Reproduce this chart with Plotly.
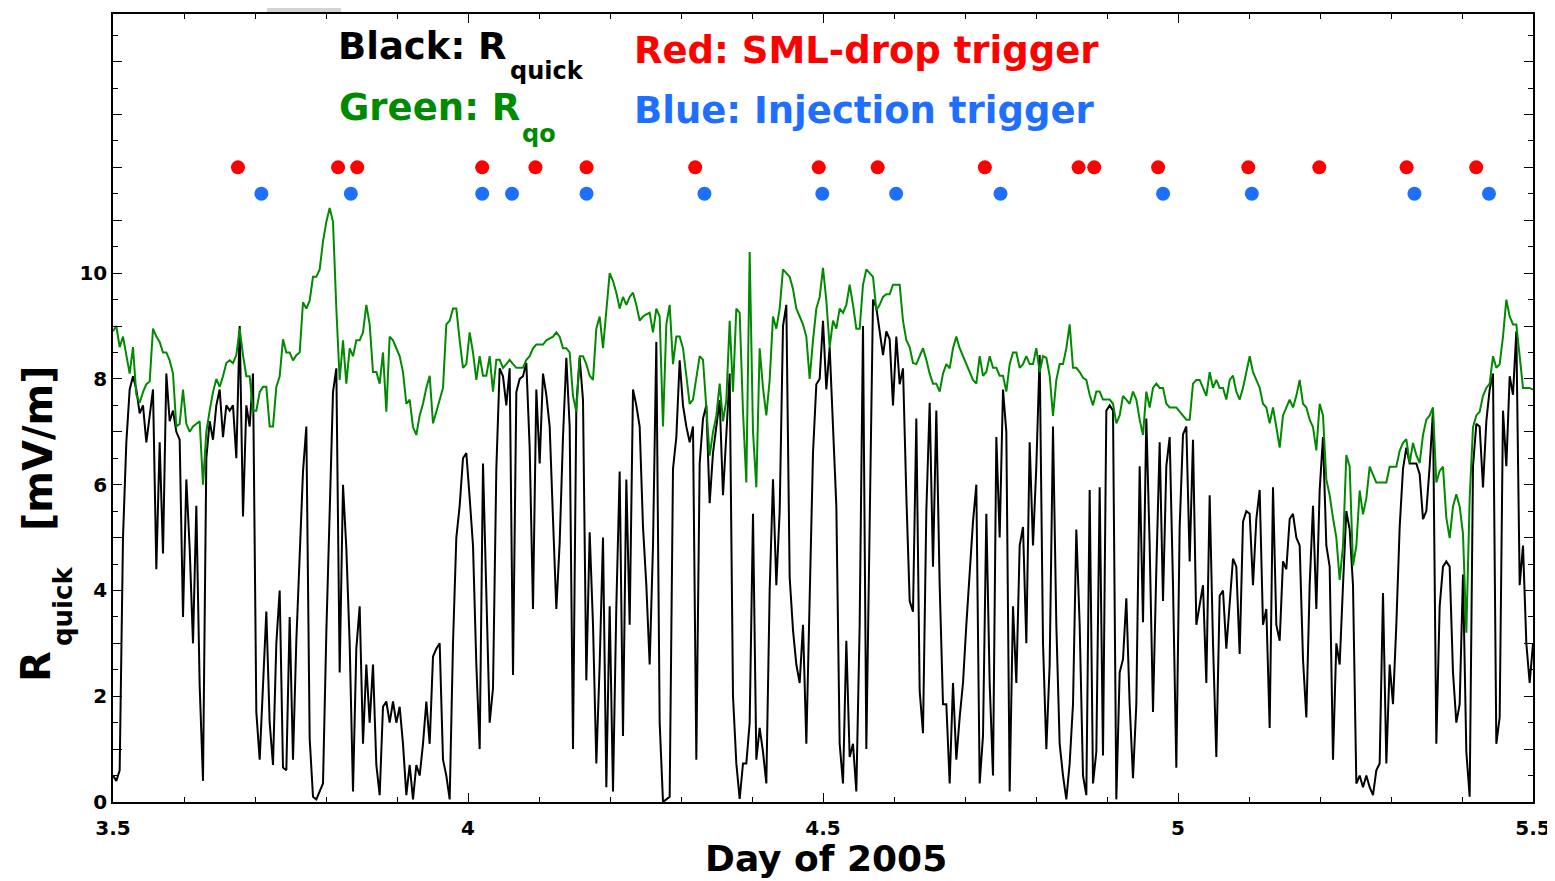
import numpy as np
import plotly.graph_objects as go

# R_quick (black) sampled on a regular time grid from day 3.5 to 5.5
r_quick = [
    0.5, 0.4, 0.6, 5.0, 6.8, 7.8, 8.05, 7.8, 7.35, 7.5, 6.8, 7.3, 7.8, 4.4, 6.8, 4.7,
    8.1, 7.2, 7.4, 7.0, 6.85, 3.5, 6.1, 4.8, 3.0, 5.6, 2.2, 0.4, 6.5, 7.2, 6.85, 7.5,
    7.8, 6.9, 7.5, 7.4, 7.5, 6.5, 9.0, 5.4, 7.5, 7.1, 8.1, 1.7, 0.8, 2.2, 3.6, 1.5,
    0.7, 3.0, 4.0, 0.65, 0.6, 3.5, 0.8, 3.05,
    4.5, 6.25, 7.1, 1.2, 0.1, 0.05, 0.2, 0.35, 3.2, 5.6, 7.75, 8.2, 2.45, 6.0, 4.8, 3.0,
    0.2, 2.9, 3.7, 1.1, 2.6, 1.5, 2.6, 0.7, 0.13, 1.8, 1.9, 1.5, 1.9, 1.5, 1.8, 1.1,
    0.13, 0.7, 0.05, 0.7, 0.5, 1.1, 1.9, 1.1, 2.75, 2.9, 3.0, 0.8, 0.5, 0.05, 3.0, 5.0,
    5.6, 6.5, 6.6, 5.75, 4.85, 2.6, 1.0, 6.4, 3.7, 1.5, 2.15, 6.3,
    8.2, 8.05, 7.5, 8.2, 2.4, 7.75, 8.0, 8.05, 8.3, 6.7, 3.65, 7.8, 6.4, 8.1, 7.7, 7.1,
    5.35, 3.65, 4.9, 6.9, 8.4, 7.1, 1.0, 7.5, 8.4, 7.6, 2.3, 5.1, 3.35, 0.73, 2.6, 5.0,
    0.28, 3.7, 0.2, 3.7, 6.25, 1.25, 6.1, 3.35, 7.8, 7.5, 7.1, 5.2, 4.1, 2.6, 4.85, 8.7,
    1.5, 0.0, 0.05, 0.1, 6.3, 6.9, 8.35, 7.5, 7.1, 6.8, 7.1, 0.8,
    6.4, 7.25, 7.5, 5.65, 6.6, 7.1, 7.6, 5.8, 6.9, 8.1, 2.0, 0.73, 0.06, 0.73, 0.73, 1.5,
    5.45, 0.8, 1.4, 0.95, 0.35, 4.0, 6.1, 4.1, 5.5, 9.0, 9.4, 4.25, 3.25, 2.6, 2.25, 3.35,
    1.1, 4.2, 6.6, 7.9, 8.0, 9.1, 7.8, 8.6, 7.1, 5.6, 1.1, 0.35, 3.05, 0.85, 1.1, 0.2,
    3.35, 9.0, 1.0, 5.6, 9.5, 9.35, 8.9, 8.45, 8.9, 8.75, 7.5, 8.8,
    7.9, 8.2, 5.8, 3.8, 3.6, 7.25, 2.1, 1.3, 5.5, 7.55, 4.45, 7.4, 4.1, 1.85, 1.85, 0.35,
    2.25, 0.8, 1.6, 2.25, 3.35, 4.45, 5.3, 6.0, 0.35, 1.25, 5.45, 2.25, 0.5, 6.9, 5.0, 7.8,
    7.0, 0.2, 3.7, 2.25, 4.85, 5.2, 3.0, 6.8, 4.85, 6.35, 8.45, 3.0, 1.0, 2.6, 7.1, 3.35,
    1.1, 0.5, 0.05, 0.73, 1.85, 5.15, 3.35, 0.5, 0.13, 5.9, 0.35, 0.95,
    5.95, 0.88, 7.4, 7.5, 7.4, 0.05, 2.45, 2.7, 3.85, 1.85, 0.45, 1.85, 6.35, 3.4, 7.25, 4.85,
    1.7, 4.4, 6.8, 3.8, 6.35, 6.9, 4.1, 0.65, 5.2, 6.95, 7.1, 4.55, 6.85, 3.35, 3.7, 4.1,
    2.25, 5.8, 3.0, 0.85, 3.9, 4.0, 2.9, 3.7, 4.6, 4.45, 2.8, 5.3, 5.5, 5.45, 4.1, 5.35,
    5.9, 3.35, 3.65, 1.4, 5.95, 3.35, 3.05, 4.55, 4.4, 5.35, 5.45, 5.0,
    4.85, 2.7, 1.6, 4.1, 5.6, 3.65, 5.9, 6.9, 4.85, 4.45, 0.8, 3.0, 2.6, 4.1, 5.5, 5.15,
    4.1, 0.35, 0.5, 0.28, 0.5, 0.28, 0.13, 0.6, 0.73, 3.95, 0.73, 2.6, 1.85, 3.35, 5.2, 6.3,
    6.7, 6.4, 6.4, 6.4, 6.2, 5.35, 5.5, 6.35, 7.4, 1.1, 3.7, 4.45, 4.55, 4.45, 2.45, 1.5,
    1.85, 4.3, 0.95, 0.1, 6.35, 7.15, 7.1, 5.95, 7.2, 7.8, 8.1, 1.1, 1.6, 7.4, 6.35, 8.05,
    7.7, 8.9, 4.1, 4.85, 3.0, 2.25, 3.0,
]

# R_qo (green) on the same time grid
r_qo = [
    8.9, 9.0, 8.6, 8.8, 8.45, 8.1, 8.6, 7.7, 7.55, 7.75, 7.9, 7.95, 8.95, 8.8, 8.7, 8.5,
    8.5, 8.35, 8.1, 7.1, 7.15, 7.8, 7.15, 7.0, 7.1, 7.15, 7.2, 6.0, 7.0, 7.4, 7.75, 8.0,
    7.85, 8.05, 8.3, 8.35, 8.3, 8.45, 8.95, 8.45, 8.05, 8.05, 7.4, 7.4, 7.75, 7.85, 7.85, 7.1,
    7.1, 7.85, 8.05, 8.75, 8.5, 8.5, 8.35, 8.45,
    8.5, 9.45, 9.33, 9.48, 9.93, 9.93, 10.07, 10.6, 10.97, 11.23, 10.97, 9.33, 7.98, 8.73, 7.91, 8.58,
    8.43, 8.73, 8.73, 8.88, 9.4, 9.03, 8.13, 8.13, 7.91, 8.5, 7.38, 8.8, 8.73, 8.58, 8.43, 8.13,
    7.53, 7.61, 7.09, 6.94, 7.31, 7.53, 7.83, 8.06, 7.16, 7.38, 7.61, 7.83, 9.03, 9.1, 9.33, 9.33,
    8.73, 8.21, 8.28, 8.88, 8.5, 7.98, 8.43, 8.06, 8.06, 8.43, 7.76, 8.36,
    8.36, 8.21, 8.28, 8.36, 8.28, 8.21, 8.21, 8.21, 8.36, 8.43, 8.58, 8.65, 8.65, 8.65, 8.73, 8.77,
    8.8, 8.88, 8.8, 8.58, 8.58, 8.5, 7.68, 7.38, 8.43, 8.43, 8.28, 8.06, 7.98, 8.95, 9.18, 8.58,
    9.33, 10.0, 9.85, 9.63, 9.33, 9.55, 9.4, 9.55, 9.63, 9.4, 9.1, 9.18, 9.22, 9.25, 8.88, 9.33,
    9.18, 7.1, 9.03, 9.4, 8.28, 8.8, 8.8, 8.58, 8.06, 7.53, 7.61, 8.06,
    8.43, 8.36, 7.46, 6.55, 7.0, 7.3, 7.91, 7.2, 7.6, 9.1, 7.76, 9.33, 9.25, 7.38, 6.04, 10.4,
    7.0, 5.95, 8.58, 7.83, 7.31, 7.98, 9.18, 8.95, 9.33, 10.07, 10.0, 9.93, 9.7, 9.33, 9.18, 9.03,
    8.8, 8.0, 8.73, 9.33, 9.55, 10.1, 9.48, 8.6, 9.1, 8.95, 9.33, 9.25, 9.4, 9.78, 9.4, 8.95,
    8.95, 9.78, 10.07, 10.0, 9.93, 9.3, 9.4, 9.55, 9.6, 9.6, 9.78, 9.78,
    9.78, 9.1, 8.73, 8.6, 8.3, 8.28, 8.43, 8.58, 8.36, 8.1, 7.91, 7.91, 7.76, 8.1, 8.28, 8.2,
    8.58, 8.8, 8.58, 8.43, 8.28, 8.13, 7.98, 7.91, 8.43, 8.06, 8.13, 8.43, 8.21, 8.21, 8.06, 8.06,
    7.76, 8.28, 8.5, 8.5, 8.21, 8.28, 8.43, 8.28, 8.28, 8.58, 8.13, 8.43, 8.4, 8.06, 7.3, 7.98,
    8.28, 8.28, 8.58, 9.03, 8.21, 8.21, 8.13, 8.02, 7.98, 7.7, 7.5, 7.76,
    7.76, 7.61, 7.61, 7.61, 7.53, 7.16, 7.31, 7.68, 7.61, 7.53, 7.76, 7.61, 7.23, 6.94, 7.76, 7.46,
    7.83, 7.91, 7.83, 7.83, 7.53, 7.46, 7.46, 7.46, 7.38, 7.31, 7.23, 7.23, 7.91, 7.98, 7.98, 7.83,
    7.68, 8.13, 7.83, 7.98, 7.83, 7.83, 7.61, 7.98, 8.06, 7.76, 7.61, 7.83, 8.13, 8.43, 8.13, 7.98,
    7.83, 7.53, 7.46, 7.16, 7.46, 7.09, 6.7, 7.31, 7.46, 7.61, 7.46, 7.68,
    7.98, 7.53, 7.46, 7.23, 7.09, 6.65, 7.53, 7.31, 6.1, 5.8, 5.37, 5.0, 4.2, 4.84, 6.56, 6.34,
    4.47, 4.84, 5.89, 5.44, 5.74, 6.34, 6.19, 6.04, 6.04, 6.04, 6.04, 6.34, 6.34, 6.34, 6.64, 6.79,
    6.86, 6.41, 6.79, 6.56, 6.41, 6.94, 7.23, 7.31, 7.46, 6.04, 6.26, 6.34, 5.37, 4.99, 5.59, 5.82,
    5.59, 5.07, 3.2, 5.74, 7.09, 7.31, 7.38, 7.68, 7.83, 7.91, 8.43, 8.21, 8.28, 8.8, 9.5, 9.18,
    9.03, 9.03, 8.43, 7.83, 7.83, 7.83, 7.8,
]

day_start, day_end = 3.5, 5.5
days = np.linspace(day_start, day_end, len(r_quick))

# Trigger times (day of 2005)
sml_drop_days = [3.676, 3.817, 3.844, 4.020, 4.095, 4.167, 4.320, 4.494, 4.577, 4.728,
                 4.860, 4.882, 4.972, 5.099, 5.199, 5.322, 5.420]
injection_days = [3.709, 3.835, 4.020, 4.062, 4.167, 4.333, 4.499, 4.603, 4.750,
                  4.979, 5.104, 5.333, 5.438]
sml_level = 12.0
injection_level = 11.5

x_tick_vals = [3.5, 4.0, 4.5, 5.0, 5.5]
x_tick_text = ["3.5", "4", "4.5", "5", "5.5"]
y_tick_vals = list(range(0, 15))
y_tick_text = ["0", "", "2", "", "4", "", "6", "", "8", "", "10", "", "", "", ""]

FONT = "DejaVu Sans"
GREEN = "#008a00"
RED = "#ff0000"
BLUE = "#1f6fff"

fig = go.Figure()
fig.add_trace(go.Scatter(x=days, y=r_quick, mode="lines",
                         line=dict(color="black", width=2), hoverinfo="skip"))
fig.add_trace(go.Scatter(x=days, y=r_qo, mode="lines",
                         line=dict(color=GREEN, width=2), hoverinfo="skip"))
fig.add_trace(go.Scatter(x=sml_drop_days, y=[sml_level] * len(sml_drop_days), mode="markers",
                         marker=dict(color=RED, size=14), hoverinfo="skip"))
fig.add_trace(go.Scatter(x=injection_days, y=[injection_level] * len(injection_days), mode="markers",
                         marker=dict(color=BLUE, size=14), hoverinfo="skip"))

# The page body adds an 8px margin, so the figure is drawn 8px smaller
# and every reference pixel position is shifted by that offset.
PAGE_OFF = 8
W, H = 1555 - PAGE_OFF, 881 - PAGE_OFF
L, R, T, B = 113 - PAGE_OFF, 22, 14 - PAGE_OFF, 79
pw, ph = W - L - R, H - T - B
plot_left_ref = L + PAGE_OFF
plot_bottom_ref = H - B + PAGE_OFF


def px(xp):
    return (xp - plot_left_ref) / pw


def py(yp):
    return (plot_bottom_ref - yp) / ph


def ann(text, xp, yp, size, color, xanchor="left", angle=0):
    return dict(text=text, x=px(xp), y=py(yp), xref="paper", yref="paper",
                xanchor=xanchor, yanchor="middle", showarrow=False, textangle=angle,
                borderpad=0,
                font=dict(family=FONT, size=size, color=color, weight="bold"))


annotations = [
    ann("Black: R", 337, 46, 37, "black"),
    ann("quick", 509, 71, 24, "black"),
    ann("Green: R", 338, 107.5, 37, GREEN),
    ann("qo", 521, 134, 24, GREEN),
    ann("Red: SML-drop trigger", 633, 50, 37, RED),
    ann("Blue: Injection trigger", 633, 110, 37, BLUE),
    ann("Day of 2005", 826, 858, 36, "black", xanchor="center"),
    ann("R", 36, 667, 40, "black", xanchor="center", angle=-90),
    ann("quick", 63, 607, 26, "black", xanchor="center", angle=-90),
    ann("[mV/m]", 38, 448, 40, "black", xanchor="center", angle=-90),
]

fig.update_layout(
    width=W, height=H,
    margin=dict(l=L, r=R, t=T, b=B, autoexpand=False),
    paper_bgcolor="white", plot_bgcolor="white",
    showlegend=False,
    annotations=annotations,
    shapes=[dict(type="rect", xref="paper", yref="paper",
                 x0=px(267), x1=px(341), y0=py(12), y1=1.0 + T / ph,
                 fillcolor="#d4d4d4", line=dict(width=0), layer="above")],
)

tickfont = dict(family=FONT, size=20, color="black", weight="bold")
fig.update_xaxes(range=[day_start, day_end], tickmode="array", tickvals=x_tick_vals,
                 ticktext=x_tick_text, ticks="inside", ticklen=9, tickwidth=1.2,
                 tickcolor="black",
                 minor=dict(tick0=3.5, dtick=0.1, ticks="inside", ticklen=5,
                            tickcolor="black", tickwidth=1),
                 showline=True, linecolor="black", linewidth=1.5, mirror="ticks",
                 showgrid=False, zeroline=False, tickfont=tickfont,
                 ticklabelstandoff=7)
fig.update_yaxes(range=[0, 14.9], tickmode="array", tickvals=y_tick_vals,
                 ticktext=y_tick_text, ticks="inside", ticklen=9, tickwidth=1.2,
                 tickcolor="black",
                 minor=dict(tick0=0, dtick=0.5, ticks="inside", ticklen=5,
                            tickcolor="black", tickwidth=1),
                 showline=True, linecolor="black", linewidth=1.5, mirror="ticks",
                 showgrid=False, zeroline=False, tickfont=tickfont)

fig.write_html("out.html")
